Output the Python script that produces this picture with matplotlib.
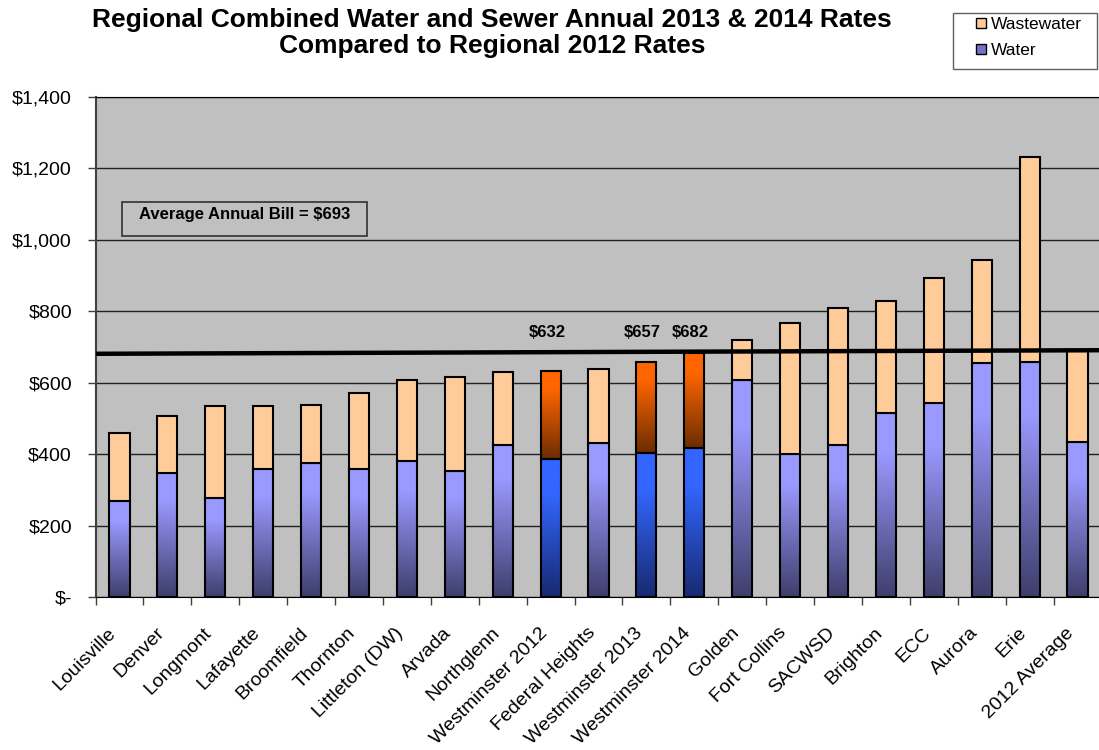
import numpy as np
import matplotlib
matplotlib.use('Agg')
import matplotlib.pyplot as plt
import matplotlib.transforms as mtransforms
from matplotlib.colors import LinearSegmentedColormap
from matplotlib.lines import Line2D
from matplotlib.patches import Rectangle

plt.rcParams['font.family'] = ['Liberation Sans', 'DejaVu Sans']

# Values ($ per year)
utilities = ['Louisville', 'Denver', 'Longmont', 'Lafayette', 'Broomfield', 'Thornton',
             'Littleton (DW)', 'Arvada', 'Northglenn', 'Westminster 2012', 'Federal Heights',
             'Westminster 2013', 'Westminster 2014', 'Golden', 'Fort Collins', 'SACWSD',
             'Brighton', 'ECC', 'Aurora', 'Erie', '2012 Average']
water = [270, 347, 276, 359, 375, 358, 380, 354, 425, 386, 432, 402, 416, 607, 401, 425,
         516, 543, 656, 658, 433]
wastewater = [188, 161, 259, 176, 162, 214, 229, 263, 205, 246, 206, 255, 266, 114, 366, 384,
              314, 351, 287, 575, 257]
highlight = ['Westminster 2012', 'Westminster 2013', 'Westminster 2014']
avg_line_ends = [681, 691]
avg_note = 'Average Annual Bill = $693'
title = ('Regional Combined Water and Sewer Annual 2013 & 2014 Rates\n'
         'Compared to Regional 2012 Rates')
yticks = [0, 200, 400, 600, 800, 1000, 1200, 1400]

# Colours
waste_color = '#FFCC99'
water_cmap = LinearSegmentedColormap.from_list(
    'water', [(0, '#3E3E6C'), (0.78, '#9999FF'), (1, '#9A9AFF')])
hl_water_cmap = LinearSegmentedColormap.from_list(
    'hl_water', [(0, '#172A70'), (0.75, '#3366FF'), (1, '#3366FF')])
hl_waste_cmap = LinearSegmentedColormap.from_list(
    'hl_waste', [(0, '#6B2C00'), (0.8, '#FF6600'), (1, '#FF6600')])

fig = plt.figure(figsize=(10.99, 7.5), dpi=100)
ax = fig.add_axes([95.5 / 1099, 1 - 597 / 750, 1006 / 1099, 500 / 750])
ax.set_facecolor('#C0C0C0')

x = np.arange(len(utilities))
width = 0.42
is_hl = [u in highlight for u in utilities]

water_bars = ax.bar(x, water, width, color='none', edgecolor='black', lw=1.5, zorder=4)
waste_bars = ax.bar(x, wastewater, width, bottom=water, color=waste_color,
                    edgecolor='black', lw=1.5, zorder=4)

grad = np.linspace(0, 1, 256).reshape(-1, 1)


def fill_gradient(bar, cmap):
    x0, y0 = bar.get_x(), bar.get_y()
    img = ax.imshow(grad, cmap=cmap, origin='lower', aspect='auto', interpolation='bilinear',
                    extent=(x0, x0 + bar.get_width(), y0, y0 + bar.get_height()), zorder=3)
    img.set_clip_path(bar)


for bar, hl in zip(water_bars, is_hl):
    fill_gradient(bar, hl_water_cmap if hl else water_cmap)
for bar, hl in zip(waste_bars, is_hl):
    if hl:
        bar.set_facecolor('none')
        fill_gradient(bar, hl_waste_cmap)

# value labels above the Westminster bars
for i, hl in enumerate(is_hl):
    if hl:
        ax.text(x[i] - 0.08, 740, f'${water[i] + wastewater[i]:,}', ha='center', va='center',
                fontsize=12, fontweight='bold', zorder=6)

# regional average line
ax.plot([-0.5, 20.5], avg_line_ends, color='black', lw=3.2, zorder=5, solid_capstyle='butt')

# note box
ax.add_patch(Rectangle((0.026, 0.7226), 0.244, 0.068, transform=ax.transAxes, fill=False,
                       edgecolor='#303030', lw=1.2, zorder=6))
ax.text(0.148, 0.766, avg_note, transform=ax.transAxes, ha='center', va='center',
        fontsize=12, fontweight='bold', zorder=6)

ax.set_xlim(-0.5, len(utilities) - 0.5)
ax.set_ylim(0, 1400)
ax.set_yticks(yticks)
ax.set_yticklabels(['$-' if v == 0 else f'${v:,}' for v in yticks], fontsize=14)
ax.yaxis.grid(True, color='#202020', lw=1)
ax.set_axisbelow(True)
ax.tick_params(axis='y', length=5.5, width=1, color='#404040', pad=11.5)

ax.set_xticks(np.arange(len(utilities) + 1) - 0.5)
ax.set_xticklabels([])
ax.set_xticks(x, minor=True)
ax.set_xticklabels(utilities, minor=True, rotation=45, ha='right', va='center',
                   rotation_mode='anchor', fontsize=14)
ax.tick_params(axis='x', which='major', length=5.5, width=1, color='#404040')
ax.tick_params(axis='x', which='minor', length=0, pad=24)
shift = mtransforms.ScaledTranslation(-6 / 100, 0, fig.dpi_scale_trans)
for lbl in ax.get_xticklabels(minor=True):
    lbl.set_transform(lbl.get_transform() + shift)

ax.spines['right'].set_visible(False)
ax.spines['top'].set_color('black')
ax.spines['left'].set_color('#404040')
ax.spines['left'].set_linewidth(1.5)
ax.spines['bottom'].set_color('black')

fig.text(0.448, 0.989, title, ha='center', va='top', fontsize=19, fontweight='bold',
         linespacing=1.07)

# legend: entries placed inside a wider frame like the original
handles = [Line2D([], [], ls='none', marker='s', markersize=7.5, markerfacecolor=waste_color,
                  markeredgecolor='black', markeredgewidth=1),
           Line2D([], [], ls='none', marker='s', markersize=7.5, markerfacecolor='#7474C4',
                  markeredgecolor='black', markeredgewidth=1)]
fig.legend(handles, ['Wastewater', 'Water'], loc='upper left',
           bbox_to_anchor=(974 / 1099, 1 - 17 / 750), fontsize=12.5, frameon=False,
           handlelength=0.8, handletextpad=0.15, labelspacing=0.62, borderpad=0,
           borderaxespad=0)
fig.add_artist(Rectangle((953 / 1099, 1 - 69 / 750), 144 / 1099, 56 / 750,
                         transform=fig.transFigure, fill=False, edgecolor='#606060', lw=1))

fig.savefig('out.png', dpi=100)
